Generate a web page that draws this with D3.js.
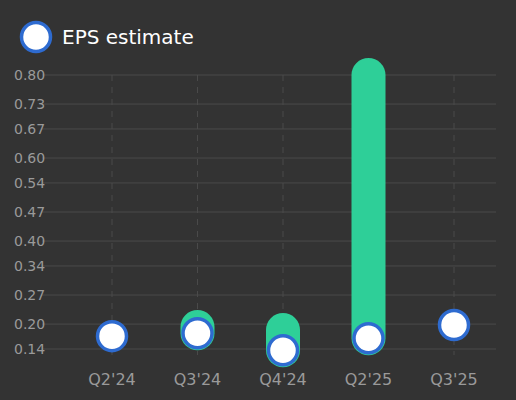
<!DOCTYPE html>
<meta charset="utf-8">
<style>
body { margin: 0; background: #333333; }
svg { font-family: "DejaVu Sans", sans-serif; }
</style>
<body>
<svg id="chart" width="516" height="400"></svg>
<script src="https://cdn.jsdelivr.net/npm/d3@7"></script>
<script>
var quarters = ["Q2'24", "Q3'24", "Q4'24", "Q2'25", "Q3'25"],
    estimates = [0.171, 0.178, 0.137, 0.166, 0.198],
    actuals = [null, 0.193, 0.186, 0.80, null],
    yTicks = [0.14, 0.20, 0.27, 0.34, 0.40, 0.47, 0.54, 0.60, 0.67, 0.73, 0.80];

var svg = d3.select("#chart"),
    margin = {top: 75, right: 20, bottom: 51, left: 70},
    width = 516 - margin.left - margin.right,
    height = 400 - margin.top - margin.bottom;

svg.append("rect").attr("width", 516).attr("height", 400).attr("fill", "#333333");

var x = d3.scalePoint().domain(quarters).range([112, 454]),
    y = d3.scaleLinear().domain([0.14, 0.80]).range([349, 75]);

// gridlines
svg.selectAll(".hgrid").data(yTicks).enter().append("line")
    .attr("x1", 42).attr("x2", 496)
    .attr("y1", function (d) { return y(d); }).attr("y2", function (d) { return y(d); })
    .attr("stroke", "#4a4a4a").attr("stroke-width", 1);

svg.selectAll(".vgrid").data(quarters).enter().append("line")
    .attr("x1", function (d) { return x(d); }).attr("x2", function (d) { return x(d); })
    .attr("y1", 75).attr("y2", 355)
    .attr("stroke", "#4a4a4a").attr("stroke-dasharray", "6,6");

svg.selectAll(".ytick").data(yTicks).enter().append("text")
    .attr("x", 14).attr("y", function (d) { return y(d); })
    .attr("dy", "0.35em").attr("fill", "#9a9a9a").attr("font-size", 14)
    .text(function (d) { return d.toFixed(2); });

svg.selectAll(".xtick").data(quarters).enter().append("text")
    .attr("x", function (d) { return x(d); }).attr("y", 385)
    .attr("text-anchor", "middle").attr("fill", "#9a9a9a").attr("font-size", 16)
    .text(function (d) { return d; });

// bars between estimate and actual
quarters.forEach(function (q, i) {
    if (actuals[i] == null) return;
    svg.append("line")
        .attr("x1", x(q)).attr("x2", x(q))
        .attr("y1", y(estimates[i])).attr("y2", y(actuals[i]))
        .attr("stroke", "#2ecf98").attr("stroke-width", 34)
        .attr("stroke-linecap", "round");
});

svg.selectAll(".est").data(quarters).enter().append("circle")
    .attr("cx", function (d) { return x(d); })
    .attr("cy", function (d, i) { return y(estimates[i]); })
    .attr("r", 14.5).attr("fill", "#ffffff")
    .attr("stroke", "#2e6bd0").attr("stroke-width", 3.5);

// legend
svg.append("circle").attr("cx", 36).attr("cy", 37).attr("r", 14.5)
    .attr("fill", "#ffffff").attr("stroke", "#2e6bd0").attr("stroke-width", 3.5);
svg.append("text").attr("x", 62).attr("y", 37).attr("dy", "0.35em")
    .attr("fill", "#ffffff").attr("font-size", 20).text("EPS estimate");
</script>
</body>
